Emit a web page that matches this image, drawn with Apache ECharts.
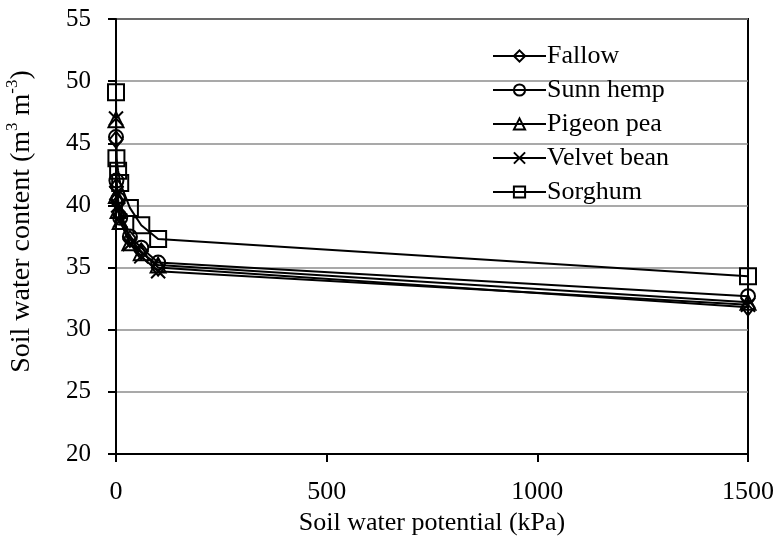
<!DOCTYPE html>
<html>
<head>
<meta charset="utf-8">
<script src="https://cdn.jsdelivr.net/npm/echarts@6/dist/echarts.min.js"></script>
<style>
  html, body { margin: 0; padding: 0; background: #fff; }
  #chart { width: 776px; height: 548px; }
</style>
</head>
<body>
<div id="chart"></div>
<script>
// soil water potential (kPa)
var potential = [0, 1, 5, 10, 33, 60, 100, 1500];

// soil water content (m3 m-3) for each treatment
var fallow     = [45.3, 41.5, 40.2, 39.2, 37.3, 36.3, 35.0, 31.8];
var sunnHemp   = [45.5, 42.0, 40.5, 39.0, 37.5, 36.6, 35.4, 32.7];
var pigeonPea  = [46.9, 40.8, 39.6, 38.7, 37.0, 36.2, 35.2, 32.2];
var velvetBean = [47.0, 41.0, 40.0, 38.8, 36.9, 35.9, 34.7, 32.0];
var sorghum    = [49.1, 43.8, 42.8, 41.8, 39.8, 38.4, 37.3, 34.3];

var names = ['Fallow', 'Sunn hemp', 'Pigeon pea', 'Velvet bean', 'Sorghum'];
var values = [fallow, sunnHemp, pigeonPea, velvetBean, sorghum];
var symbols = ['diamond', 'circle', 'triangle', 'path://M0,0L10,10M10,0L0,10', 'rect'];
var sizes = [[13, 16], 14, 15, 14, 16];

var font = 'Liberation Serif';

window.onload = function(){
    var myChart = echarts.init(document.getElementById('chart'));

    var series = names.map(function(n, i){
        return {
            name: n,
            type: 'line',
            clip: false,
            symbol: symbols[i],
            symbolSize: sizes[i],
            showAllSymbol: true,
            lineStyle: { color: '#000', width: 2 },
            itemStyle: { color: 'rgba(0,0,0,0)', borderColor: '#000', borderWidth: 2 },
            emphasis: { disabled: true },
            data: potential.map(function(x, j){ return [x, values[i][j]]; })
        };
    });

    var option = {
        animation: false,
        textStyle: { fontFamily: font, color: '#000' },
        grid: {
            left: 116, right: 28, top: 19, bottom: 94,
            outerBoundsMode: 'none',
            show: true, borderColor: '#000', borderWidth: 2
        },
        legend: {
            orient: 'vertical',
            left: 487, top: 38,
            itemWidth: 53, itemHeight: 14, itemGap: 8,
            textStyle: { fontFamily: font, fontSize: 26, color: '#000', padding: [0, 0, 0, -4] },
            data: names
        },
        xAxis: {
            type: 'value',
            min: 0, max: 1500, interval: 500,
            name: 'Soil water potential (kPa)',
            nameLocation: 'middle',
            nameGap: 56,
            nameTextStyle: { fontFamily: font, fontSize: 26, color: '#000' },
            axisLine: { show: true, onZero: false, lineStyle: { color: '#000', width: 2 } },
            axisTick: { show: true, length: 8, lineStyle: { color: '#000', width: 2 } },
            axisLabel: {
                fontFamily: font, fontSize: 26, color: '#000', margin: 25,
                formatter: function(v){ return String(v); }
            },
            splitLine: { show: false }
        },
        yAxis: {
            type: 'value',
            min: 20, max: 55, interval: 5,
            name: '{t|Soil water content (m}{s|3}{t| m}{s|-3}{t|)}',
            nameLocation: 'middle',
            nameGap: 80,
            nameTextStyle: {
                padding: [0, 0, 0, 30],
                rich: {
                    t: { fontFamily: font, fontSize: 28, color: '#000', lineHeight: 32, verticalAlign: 'bottom' },
                    s: { fontFamily: font, fontSize: 17, color: '#000', lineHeight: 32, verticalAlign: 'top' }
                }
            },
            axisLine: { show: true, lineStyle: { color: '#000', width: 2 } },
            axisTick: { show: true, length: 8, lineStyle: { color: '#000', width: 2 } },
            axisLabel: { fontFamily: font, fontSize: 25, color: '#000', margin: 25 },
            splitLine: { show: true, lineStyle: { color: '#8c8c8c', width: 1.5 } }
        },
        series: series
    };

    myChart.setOption(option);
};
</script>
</body>
</html>
